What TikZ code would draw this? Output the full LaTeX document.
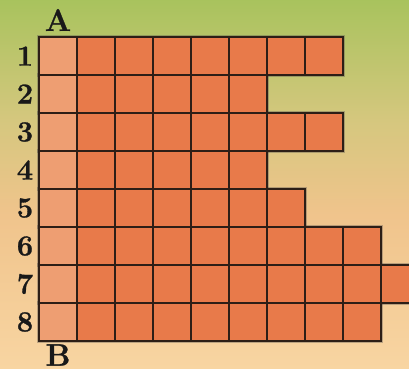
\documentclass[tikz,border=0pt]{standalone}
\usepackage{fontspec}
\setmainfont{Latin Modern Roman}[BoldFeatures={FakeBold=1}]
\usetikzlibrary{calc}
\definecolor{bgA}{RGB}{168,195,93}
\definecolor{bgB}{RGB}{213,199,126}
\definecolor{bgC}{RGB}{240,196,140}
\definecolor{bgD}{RGB}{248,213,162}
\definecolor{cellLight}{RGB}{238,158,114}
\definecolor{cellDark}{RGB}{232,122,74}
\definecolor{edge}{RGB}{45,30,22}
\tikzset{
  cellbox/.style={draw=edge, line width=1.3pt, minimum size=38pt, inner sep=0pt, outer sep=0pt, anchor=north west},
  halo/.style={draw=black!70, draw opacity=0.35, line width=3.5pt},
  rowlabel/.style={font=\fontsize{29}{29}\selectfont\bfseries, text=black!90, inner sep=0pt},
  endlabel/.style={font=\fontsize{31}{31}\selectfont\bfseries, text=black!90, inner sep=0pt}
}
\begin{document}
\begin{tikzpicture}[x=1pt,y=-1pt]
\useasboundingbox (0,0) rectangle (409,368);
\clip (0,0) rectangle (409,368);
% background gradient
\shade[top color=bgA, bottom color=bgB] (0,-1) rectangle (409,120);
\shade[top color=bgB, bottom color=bgC] (0,119.5) rectangle (409,215);
\shade[top color=bgC, bottom color=bgD] (0,214.5) rectangle (409,369);
% halo under the blocks
\foreach \r/\n in {1/8,2/6,3/8,4/6,5/7,6/9,7/10,8/9}{
  \draw[halo] (39,{37+38*(\r-1)}) rectangle ({39+38*\n},{37+38*\r});
}
% cells
\foreach \r/\n in {1/8,2/6,3/8,4/6,5/7,6/9,7/10,8/9}{
  \foreach \c in {1,...,\n}{
    \ifnum\c=1
      \node[cellbox, fill=cellLight] (c-\r-\c) at ({39+38*(\c-1)},{37+38*(\r-1)}) {};
    \else
      \node[cellbox, fill=cellDark] (c-\r-\c) at ({39+38*(\c-1)},{37+38*(\r-1)}) {};
    \fi
  }
  \node[rowlabel] (r-\r) at (25,{56+38*(\r-1)}) {\r};
}
\node[endlabel] (A) at (58,20) {A};
\node[endlabel] (B) at (58,355) {B};
\end{tikzpicture}
\end{document}
